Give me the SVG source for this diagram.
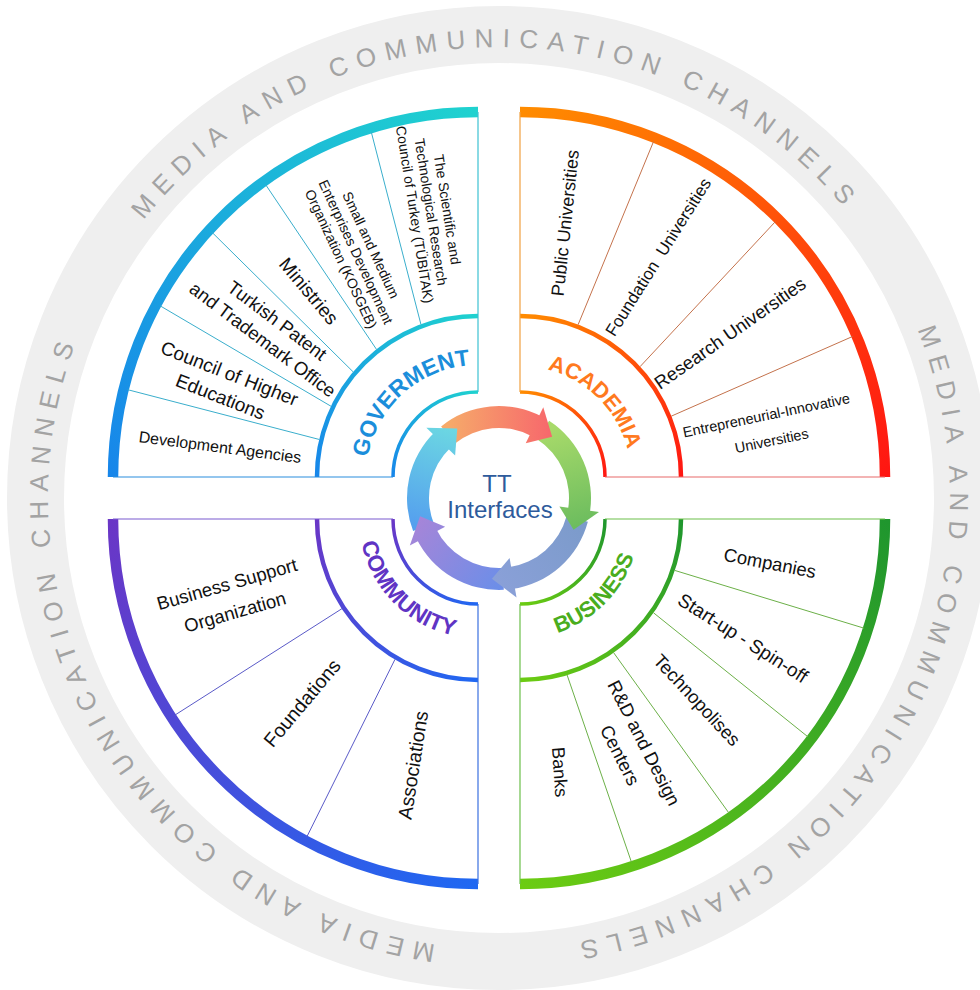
<svg xmlns="http://www.w3.org/2000/svg" width="980" height="990" viewBox="0 0 980 990">
  <defs>
    <style>
      .ring-text { font-family: "Liberation Sans", Arial, sans-serif; font-size: 26px; letter-spacing: 9px; fill: #a3a3a3; }
      .item { font-family: "Liberation Sans", Arial, sans-serif; fill: #111111; text-anchor: middle; }
      .label { font-family: "Liberation Sans", Arial, sans-serif; font-weight: bold; }
      .hub { font-family: "Liberation Sans", Arial, sans-serif; font-size: 24px; fill: #2e5b9c; text-anchor: middle; }
      .outer { fill: none; stroke-width: 10.5; }
      .mid { fill: none; stroke-width: 4.5; }
      .inner { fill: none; stroke-width: 3.5; }
      .edge { stroke-width: 1.2; }
      .spoke { stroke-width: 1; }
    </style>
    <!-- sector colour ramps -->
    <linearGradient id="gGov" x1="1" y1="0" x2="0" y2="1">
      <stop offset="0" stop-color="#1fd2cf"/>
      <stop offset="1" stop-color="#1786ea"/>
    </linearGradient>
    <linearGradient id="gAca" x1="0" y1="0" x2="1" y2="1">
      <stop offset="0" stop-color="#ff8c00"/>
      <stop offset="1" stop-color="#ff1612"/>
    </linearGradient>
    <linearGradient id="gCom" x1="0" y1="0" x2="1" y2="1">
      <stop offset="0" stop-color="#6a36c6"/>
      <stop offset="1" stop-color="#1f68f2"/>
    </linearGradient>
    <linearGradient id="gBus" x1="1" y1="0" x2="0" y2="1">
      <stop offset="0" stop-color="#1f962e"/>
      <stop offset="1" stop-color="#6ccc12"/>
    </linearGradient>
    <!-- cycle arrow ramps -->
    <linearGradient id="a0" gradientUnits="userSpaceOnUse" x1="448" y1="435" x2="552" y2="437">
      <stop offset="0" stop-color="#f6aa6a"/>
      <stop offset="1" stop-color="#f7676c"/>
    </linearGradient>
    <linearGradient id="a1" gradientUnits="userSpaceOnUse" x1="543" y1="430" x2="574" y2="530">
      <stop offset="0" stop-color="#a8da6a"/>
      <stop offset="1" stop-color="#6bbc5e"/>
    </linearGradient>
    <linearGradient id="a2" gradientUnits="userSpaceOnUse" x1="577" y1="519" x2="492" y2="579">
      <stop offset="0" stop-color="#7c9bcb"/>
      <stop offset="1" stop-color="#8aa0d8"/>
    </linearGradient>
    <linearGradient id="a3" gradientUnits="userSpaceOnUse" x1="503" y1="579" x2="420" y2="516">
      <stop offset="0" stop-color="#6d8ee8"/>
      <stop offset="1" stop-color="#a685d8"/>
    </linearGradient>
    <linearGradient id="a4" gradientUnits="userSpaceOnUse" x1="423" y1="527" x2="457" y2="429">
      <stop offset="0" stop-color="#55a0ee"/>
      <stop offset="1" stop-color="#6cd8e2"/>
    </linearGradient>
    <!-- baseline circle for the channel ring lettering -->
    <path id="ringPath" d="M143.6,220.3 A451,451 0 1 1 854.4,775.7 A451,451 0 1 1 143.6,220.3"/>
    <path id="pGov" d="M366.15,471.14 A112,112 0 0 1 483.86,365.15"/>
    <path id="pAca" d="M520,366 A111,111 0 0 1 631,477"/>
    <path id="pCom" d="M359,519 A119,119 0 0 0 478,638"/>
    <path id="pBus" d="M520,639 A120,120 0 0 0 640,519"/>
  </defs>

  <rect width="980" height="990" fill="#ffffff"/>

  <!-- media and communication channels ring -->
  <g id="channels-ring">
    <circle cx="499" cy="498" r="463.5" fill="none" stroke="#efefef" stroke-width="57"/>
    <text class="ring-text"><textPath href="#ringPath" startOffset="0">MEDIA AND COMMUNICATION CHANNELS</textPath></text>
    <text class="ring-text"><textPath href="#ringPath" startOffset="944.6">MEDIA AND COMMUNICATION CHANNELS</textPath></text>
    <text class="ring-text"><textPath href="#ringPath" startOffset="1889.1">MEDIA AND COMMUNICATION CHANNELS</textPath></text>
  </g>

  <!-- GOVERNMENT quadrant -->
  <g id="government">
    <path class="outer" stroke="url(#gGov)" d="M113,477 A365,365 0 0 1 478,112"/>
    <path class="mid" stroke="url(#gGov)" d="M317,477 A161,161 0 0 1 478,316"/>
    <path class="inner" stroke="url(#gGov)" d="M393,477 A85,85 0 0 1 478,392"/>
    <line class="edge" x1="478" y1="112" x2="478" y2="392" stroke="#3cc2d2"/>
    <line class="edge" x1="113" y1="477" x2="393" y2="477" stroke="#2a8ede"/>
    <text class="label" font-size="23" fill="#1b8edb" text-anchor="middle"><textPath href="#pGov" startOffset="50%">GOVERMENT</textPath></text>
  </g>

  <!-- ACADEMIA quadrant -->
  <g id="academia">
    <path class="outer" stroke="url(#gAca)" d="M520,112 A365,365 0 0 1 885,477"/>
    <path class="mid" stroke="url(#gAca)" d="M520,316 A161,161 0 0 1 681,477"/>
    <path class="inner" stroke="url(#gAca)" d="M520,392 A85,85 0 0 1 605,477"/>
    <line class="edge" x1="520" y1="112" x2="520" y2="392" stroke="#f0a040"/>
    <line class="edge" x1="605" y1="477" x2="885" y2="477" stroke="#e86a6a"/>
    <text class="label" font-size="22" fill="#ff7a1e" text-anchor="middle"><textPath href="#pAca" startOffset="50%">ACADEMIA</textPath></text>
  </g>

  <!-- COMMUNITY quadrant -->
  <g id="community">
    <path class="outer" stroke="url(#gCom)" d="M113,519 A365,365 0 0 0 478,884"/>
    <path class="mid" stroke="url(#gCom)" d="M317,519 A161,161 0 0 0 478,680"/>
    <path class="inner" stroke="url(#gCom)" d="M393,519 A85,85 0 0 0 478,604"/>
    <line class="edge" x1="113" y1="519" x2="393" y2="519" stroke="#7a5ad0"/>
    <line class="edge" x1="478" y1="604" x2="478" y2="884" stroke="#3a70e0"/>
    <text class="label" font-size="22.5" fill="#6034c4" text-anchor="middle"><textPath href="#pCom" startOffset="50%">COMMUNITY</textPath></text>
  </g>

  <!-- BUSINESS quadrant -->
  <g id="business">
    <path class="outer" stroke="url(#gBus)" d="M885,519 A365,365 0 0 1 520,884"/>
    <path class="mid" stroke="url(#gBus)" d="M681,519 A161,161 0 0 1 520,680"/>
    <path class="inner" stroke="url(#gBus)" d="M605,519 A85,85 0 0 1 520,604"/>
    <line class="edge" x1="605" y1="519" x2="885" y2="519" stroke="#6cbf4a"/>
    <line class="edge" x1="520" y1="604" x2="520" y2="884" stroke="#6cbf4a"/>
    <text class="label" font-size="22" fill="#4aad1e" text-anchor="middle"><textPath href="#pBus" startOffset="50%">BUSINESS</textPath></text>
  </g>

  <!-- sector dividers -->
  <g id="dividers">
    <g stroke="#3aaecc" class="spoke">
      <line x1="371.3" y1="132.1" x2="420.9" y2="324.3"/>
      <line x1="265.8" y1="184.9" x2="376.5" y2="349.4"/>
      <line x1="212.3" y1="232.6" x2="353.3" y2="372.0"/>
      <line x1="160.1" y1="305.8" x2="331.1" y2="406.3"/>
      <line x1="127.7" y1="389.7" x2="319.4" y2="439.5"/>
    </g>
    <g stroke="#c4724c" class="spoke">
      <line x1="653.5" y1="141.6" x2="578.1" y2="324.7"/>
      <line x1="775.3" y1="221.7" x2="640.0" y2="366.7"/>
      <line x1="852.5" y1="336.5" x2="671.2" y2="416.2"/>
    </g>
    <g stroke="#5a5ac8" class="spoke">
      <line x1="174.9" y1="715.1" x2="341.9" y2="608.7"/>
      <line x1="306.8" y1="836.9" x2="395.0" y2="659.3"/>
    </g>
    <g stroke="#6cb048" class="spoke">
      <line x1="864.1" y1="628.2" x2="674.7" y2="570.4"/>
      <line x1="807.9" y1="736.8" x2="653.4" y2="612.7"/>
      <line x1="729.1" y1="813.3" x2="613.5" y2="652.5"/>
      <line x1="631.5" y1="862.3" x2="567.1" y2="675.0"/>
    </g>
  </g>

  <!-- government members -->
  <g id="tubitak" transform="translate(431,212) rotate(81)">
    <text class="item" font-size="14"><tspan x="0" y="-11.6">The Scientific and</tspan><tspan x="0" y="4.9">Technological Research</tspan><tspan x="0" y="21.4">Council of Turkey (TÜBİTAK)</tspan></text>
  </g>
  <g id="kosgeb" transform="translate(356,252) rotate(65)">
    <text class="item" font-size="14"><tspan x="0" y="-11.6">Small and Medium</tspan><tspan x="0" y="4.9">Enterprises Development</tspan><tspan x="0" y="21.4">Organization (KOSGEB)</tspan></text>
  </g>
  <g id="ministries" transform="translate(309,291) rotate(50)">
    <text class="item" font-size="19" y="6.7">Ministries</text>
  </g>
  <g id="patent-office" transform="translate(270,330) rotate(37)">
    <text class="item" font-size="18.5"><tspan x="0" y="-5.5">Turkish Patent</tspan><tspan x="0" y="18.5">and Trademark Office</tspan></text>
  </g>
  <g id="higher-education" transform="translate(225,385) rotate(21.5)">
    <text class="item" font-size="19"><tspan x="0" y="-5.9">Council of Higher</tspan><tspan x="0" y="19.1">Educations</tspan></text>
  </g>
  <g id="development-agencies" transform="translate(220,447) rotate(7.4)">
    <text class="item" font-size="16" y="5.6">Development Agencies</text>
  </g>

  <!-- academia members -->
  <g id="public-universities" transform="translate(565,223) rotate(-84)">
    <text class="item" font-size="18" y="6.3">Public Universities</text>
  </g>
  <g id="foundation-universities" transform="translate(658,257) rotate(-57.8)">
    <text class="item" font-size="17" y="6" word-spacing="5">Foundation Universities</text>
  </g>
  <g id="research-universities" transform="translate(730,333) rotate(-35)">
    <text class="item" font-size="18.5" y="6.5">Research Universities</text>
  </g>
  <g id="entrepreneurial-universities" transform="translate(769,428) rotate(-11.7)">
    <text class="item" font-size="14.5"><tspan x="0" y="-8">Entrepreneurial-Innovative</tspan><tspan x="0" y="18">Universities</tspan></text>
  </g>

  <!-- community members -->
  <g id="business-support" transform="translate(231,598) rotate(-16)">
    <text class="item" font-size="18.5"><tspan x="0" y="-8">Business Support</tspan><tspan x="0" y="21">Organization</tspan></text>
  </g>
  <g id="foundations" transform="translate(302,703) rotate(-50)">
    <text class="item" font-size="19.5" y="6.8">Foundations</text>
  </g>
  <g id="associations" transform="translate(413,765) rotate(-81)">
    <text class="item" font-size="19.5" y="6.8">Associations</text>
  </g>

  <!-- business members -->
  <g id="companies" transform="translate(770,563) rotate(11)">
    <text class="item" font-size="18.5" y="6.5">Companies</text>
  </g>
  <g id="startups" transform="translate(743,638) rotate(32.5)">
    <text class="item" font-size="19" y="6.6">Start-up - Spin-off</text>
  </g>
  <g id="technopolises" transform="translate(697,700) rotate(47)">
    <text class="item" font-size="18.5" y="6.5">Technopolises</text>
  </g>
  <g id="rd-centers" transform="translate(632,749) rotate(63)">
    <text class="item" font-size="18.5"><tspan x="0" y="-7">R&amp;D and Design</tspan><tspan x="0" y="20">Centers</tspan></text>
  </g>
  <g id="banks" transform="translate(560,772) rotate(86)">
    <text class="item" font-size="18" y="6.3">Banks</text>
  </g>

  <!-- central cycle: bodies first, heads on top -->
  <g id="cycle">
    <path fill="url(#a0)" d="M441.10,426.51 A92,92 0 0 1 542.19,416.77 L531.87,436.20 A70,70 0 0 0 454.95,443.60 Z"/>
    <path fill="url(#a1)" d="M549.10,420.84 A92,92 0 0 1 589.60,513.97 L567.94,510.15 A70,70 0 0 0 537.12,439.29 Z"/>
    <path fill="url(#a2)" d="M587.86,521.81 A92,92 0 0 1 511.81,589.11 L508.74,567.32 A70,70 0 0 0 566.61,516.12 Z"/>
    <path fill="url(#a3)" d="M503.81,589.87 A92,92 0 0 1 416.31,538.33 L436.08,528.69 A70,70 0 0 0 502.66,567.90 Z"/>
    <path fill="url(#a4)" d="M413.11,530.97 A92,92 0 0 1 435.09,431.82 L450.37,447.65 A70,70 0 0 0 433.65,523.09 Z"/>
    <path fill="url(#a0)" d="M543.28,407.22 L552.14,436.87 L525.74,443.17 Z"/>
    <path fill="url(#a1)" d="M599.02,512.06 L573.56,529.65 L559.41,506.49 Z"/>
    <path fill="url(#a2)" d="M516.53,597.46 L491.94,578.69 L509.59,558.07 Z"/>
    <path fill="url(#a3)" d="M409.83,545.42 L420.07,516.23 L445.14,526.64 Z"/>
    <path fill="url(#a4)" d="M426.35,427.84 L457.28,428.57 L455.12,455.62 Z"/>
  </g>

  <g id="hub">
    <text class="hub" x="497" y="492">TT</text>
    <text class="hub" x="500" y="518">Interfaces</text>
  </g>
</svg>
